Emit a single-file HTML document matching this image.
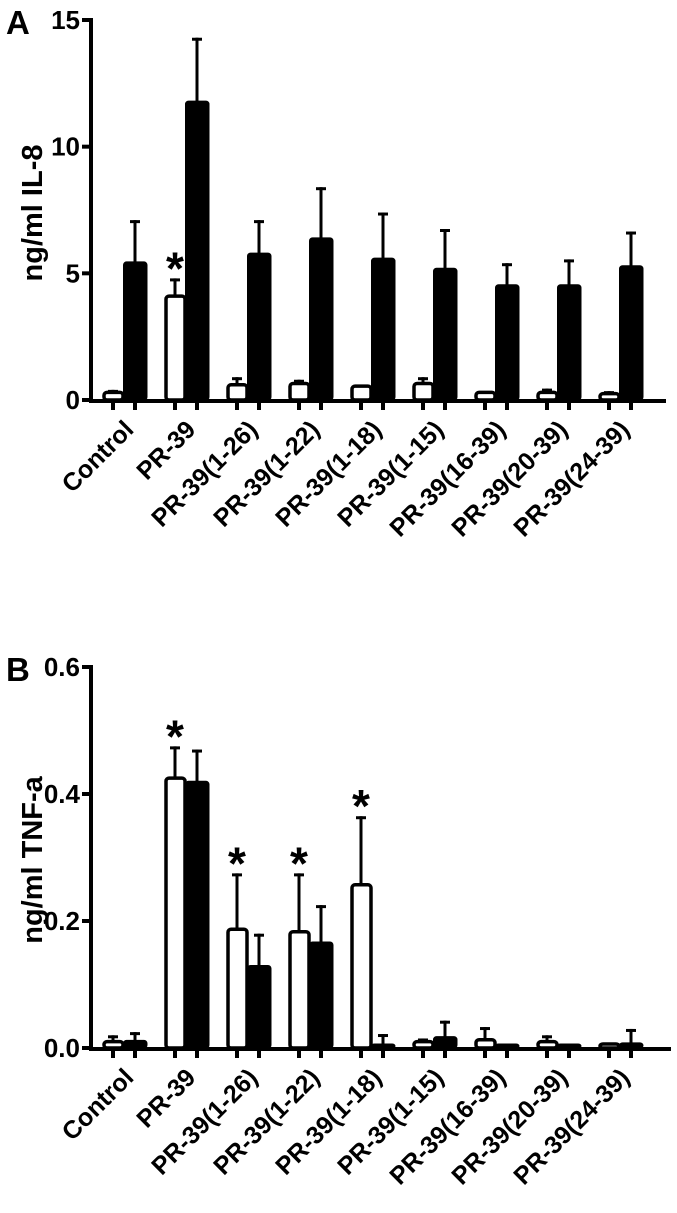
<!DOCTYPE html>
<html><head><meta charset="utf-8">
<style>
html,body{margin:0;padding:0;background:#fff;}
svg{display:block;font-family:"Liberation Sans",Arial,sans-serif;font-weight:bold;}
</style></head>
<body>
<svg id="chart" width="677" height="1213" viewBox="0 0 677 1213"></svg>
<script>
const categories = ["Control","PR-39","PR-39(1-26)","PR-39(1-22)","PR-39(1-18)","PR-39(1-15)","PR-39(16-39)","PR-39(20-39)","PR-39(24-39)"];
const il8White = [0.3,4.1,0.6,0.65,0.55,0.65,0.3,0.3,0.25];
const il8WhiteErr = [0.1,0.7,0.3,0.15,0.05,0.25,0.05,0.15,0.1];
const il8Black = [5.45,11.8,5.8,6.4,5.6,5.2,4.55,4.55,5.3];
const il8BlackErr = [1.65,2.5,1.3,2.0,1.8,1.55,0.85,1.0,1.35];
const il8Stars = [false,true,false,false,false,false,false,false,false];
const il8Ticks = [0,5,10,15];
const tnfWhite = [0.01,0.425,0.187,0.183,0.257,0.01,0.013,0.01,0.0];
const tnfWhiteErr = [0.01,0.05,0.088,0.092,0.108,0.005,0.02,0.01,0.0];
const tnfBlack = [0.012,0.42,0.13,0.167,0.005,0.018,0.003,0.002,0.008];
const tnfBlackErr = [0.013,0.05,0.05,0.058,0.017,0.025,0.003,0.003,0.022];
const tnfStars = [false,true,true,true,true,false,false,false,false];
const tnfTicks = ["0.0","0.2","0.4","0.6"];

const NS="http://www.w3.org/2000/svg";
const svg=document.getElementById('chart');
function mk(tag,attrs,parent){const e=document.createElementNS(NS,tag);for(const k in attrs)e.setAttribute(k,attrs[k]);(parent||svg).appendChild(e);return e;}
function xc(i){return 124+62*i;}

function panel(opt){
  const g=mk('g',{});
  
  
  const y=v=>opt.y0-(v/opt.max)*(opt.y0-opt.yTop);
  for(let i=0;i<categories.length;i++){
    const c=xc(i);
    const wv=opt.white[i], we=opt.whiteErr[i];
    if(we>0){
      const l=mk('line',{x1:c-11,x2:c-11,y1:y(wv),y2:y(wv+we),stroke:'#000','stroke-width':3},g);
      
      
      const cap=mk('line',{x1:c-16,x2:c-6,y1:y(wv+we)+1.5,y2:y(wv+we)+1.5,stroke:'#000','stroke-width':3},g);
      
      
    }
    const bv=opt.black[i], be=opt.blackErr[i];
    if(be>0){
      const l=mk('line',{x1:c+11,x2:c+11,y1:y(bv),y2:y(bv+be),stroke:'#000','stroke-width':3},g);
      
      
      const cap=mk('line',{x1:c+6,x2:c+16,y1:y(bv+be)+1.5,y2:y(bv+be)+1.5,stroke:'#000','stroke-width':3},g);
      
      
    }
    const wt=Math.min(y(wv),opt.y0-4);
    const wb=mk('rect',{x:c-20,y:wt,width:19,height:opt.y0-wt,fill:'#fff',stroke:'#000','stroke-width':3.5,rx:3},g);
    
    
    const bt=Math.min(y(bv),opt.y0-4);
    const bb=mk('rect',{x:c-0.5,y:bt,width:23.5,height:opt.y0-bt,fill:'#000',stroke:'#000','stroke-width':1,rx:3},g);
    
    
    if(opt.stars[i]){
      const s=mk('text',{x:c-11,y:y(wv+we)+6,'font-size':46,'text-anchor':'middle'},g);
      s.textContent='*';
      
      
    }
    [c-11,c+11].forEach(tx=>{const t=mk('line',{x1:tx,x2:tx,y1:opt.y0,y2:opt.y0+10,stroke:'#000','stroke-width':4},g);
      
      });
    const lb=mk('text',{x:0,y:0,'font-size':25,'text-anchor':'end',transform:`translate(${c+11},${opt.y0+31}) rotate(-45)`},g);
    lb.textContent=categories[i];
    
    
  }
  const ya=mk('line',{x1:91,x2:91,y1:opt.yTop-2,y2:opt.y0+2,stroke:'#000','stroke-width':4},g);
  
  
  const xa=mk('line',{x1:89,x2:opt.xEnd,y1:opt.y0+1,y2:opt.y0+1,stroke:'#000','stroke-width':4},g);
  
  
  opt.ticks.forEach(t=>{
    const v=parseFloat(t), ty=y(v);
    const tk=mk('line',{x1:82,x2:91,y1:ty,y2:ty,stroke:'#000','stroke-width':4},g);
    
    
    const tl=mk('text',{x:80,y:ty+9,'font-size':26,'text-anchor':'end'},g);
    tl.textContent=String(t);
    
    
  });
  const yt=mk('text',{x:0,y:0,'font-size':29,'text-anchor':'middle',transform:`translate(${opt.titleX},${opt.titleY}) rotate(-90)`},g);
  yt.textContent=opt.title;
  
  
  const pl=mk('text',{x:6,y:opt.yTop+14,'font-size':33},g);
  pl.textContent=opt.letter;
  
  
}
panel({name:'panel-a-il8',white:il8White,whiteErr:il8WhiteErr,black:il8Black,blackErr:il8BlackErr,stars:il8Stars,ticks:il8Ticks,max:15,y0:400,yTop:20,xEnd:666,title:'ng/ml IL-8',titleX:42,titleY:213,letter:'A'});
panel({name:'panel-b-tnf',white:tnfWhite,whiteErr:tnfWhiteErr,black:tnfBlack,blackErr:tnfBlackErr,stars:tnfStars,ticks:tnfTicks,max:0.6,y0:1048,yTop:667,xEnd:671,title:'ng/ml TNF-a',titleX:42,titleY:860,letter:'B'});
</script>
</body></html>
